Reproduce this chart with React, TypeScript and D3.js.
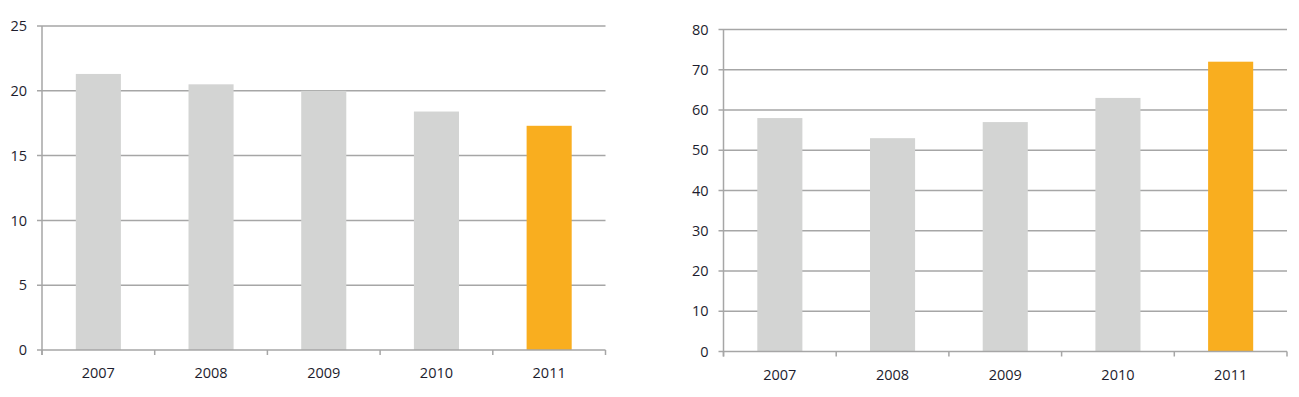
import React, { useRef, useEffect } from "react";
import * as d3 from "d3";

const years = ["2007", "2008", "2009", "2010", "2011"];
const leftValues = [21.3, 20.5, 20.0, 18.4, 17.3];
const rightValues = [58, 53, 57, 63, 72];
const leftTicks = [0, 5, 10, 15, 20, 25];
const rightTicks = [0, 10, 20, 30, 40, 50, 60, 70, 80];

const GREY = "#d3d4d3";
const ORANGE = "#f9ae1f";
const LINE = "#a6a6a6";
const TEXT = "#1d1d2e";
const FONT = "'Open Sans', sans-serif";

function drawChart(svg, box, values, ticks) {
  const g = svg.append("g");

  const x = d3.scaleBand().domain(years).range([box.left, box.right]).padding(0);
  const y = d3.scaleLinear().domain([0, d3.max(ticks)]).range([box.bottom, box.top]);

  // gridlines
  g.append("g")
    .selectAll("line")
    .data(ticks.filter((t) => t > 0))
    .enter()
    .append("line")
    .attr("x1", box.left - 5)
    .attr("x2", box.right)
    .attr("y1", (d) => y(d))
    .attr("y2", (d) => y(d))
    .style("stroke", LINE)
    .style("stroke-width", 1.5);

  // bars
  const barW = x.bandwidth() * 0.4;
  g.append("g")
    .selectAll("rect")
    .data(values)
    .enter()
    .append("rect")
    .attr("x", (d, i) => x(years[i]) + x.bandwidth() / 2 - barW / 2)
    .attr("y", (d) => y(d))
    .attr("width", barW)
    .attr("height", (d) => y(0) - y(d))
    .style("fill", (d, i) => (i === years.length - 1 ? ORANGE : GREY));

  // y axis line + zero line
  g.append("line")
    .attr("x1", box.left)
    .attr("x2", box.left)
    .attr("y1", y(d3.max(ticks)))
    .attr("y2", y(0) + 5)
    .style("stroke", LINE)
    .style("stroke-width", 1.5);
  g.append("line")
    .attr("x1", box.left - 5)
    .attr("x2", box.right)
    .attr("y1", y(0))
    .attr("y2", y(0))
    .style("stroke", LINE)
    .style("stroke-width", 1.5);

  // category boundary ticks
  const bounds = years.map((yr) => x(yr)).concat([box.right]);
  g.append("g")
    .selectAll("line")
    .data(bounds)
    .enter()
    .append("line")
    .attr("x1", (d) => d)
    .attr("x2", (d) => d)
    .attr("y1", y(0))
    .attr("y2", y(0) + 5)
    .style("stroke", LINE)
    .style("stroke-width", 1.5);

  // y labels
  g.append("g")
    .selectAll("text")
    .data(ticks)
    .enter()
    .append("text")
    .attr("x", box.left - 15)
    .attr("y", (d) => y(d))
    .attr("dy", "0.36em")
    .attr("text-anchor", "end")
    .style("font-family", FONT)
    .style("font-size", "14.5px")
    .style("fill", TEXT)
    .text((d) => d);

  // x labels
  g.append("g")
    .selectAll("text")
    .data(years)
    .enter()
    .append("text")
    .attr("x", (d) => x(d) + x.bandwidth() / 2)
    .attr("y", y(0) + 23)
    .attr("dy", "0.36em")
    .attr("text-anchor", "middle")
    .style("font-family", FONT)
    .style("font-size", "14.5px")
    .style("fill", TEXT)
    .text((d) => d);
}

export default function App() {
  const svgRef = useRef(null);

  useEffect(() => {
    const svg = d3.select(svgRef.current);
    svg.selectAll("*").remove();

    drawChart(svg, { left: 42, right: 605.5, top: 26, bottom: 350 }, leftValues, leftTicks);
    drawChart(svg, { left: 723.5, right: 1287, top: 29.5, bottom: 351.5 }, rightValues, rightTicks);
  }, []);

  return (
    <svg
      ref={svgRef}
      width={1299}
      height={397}
      style={{ position: "absolute", left: 0, top: 0, background: "#fff" }}
    ></svg>
  );
}
